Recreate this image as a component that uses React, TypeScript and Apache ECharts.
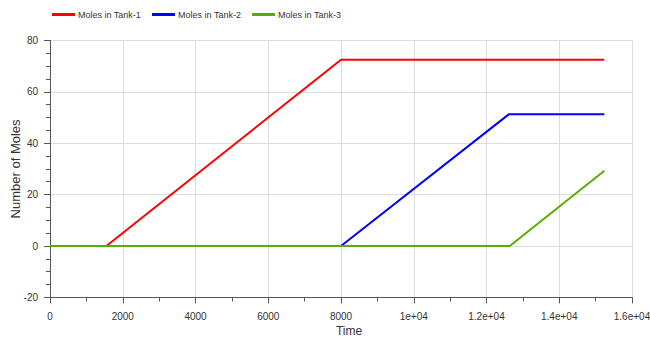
import React, { useEffect, useRef } from "react";
import * as echarts from "echarts";

const seriesNames = ["Moles in Tank-1", "Moles in Tank-2", "Moles in Tank-3"];
const seriesColors = ["#ff0000", "#0000ff", "#5aad00"];

const tank1Time = [0, 1550, 8000, 15240];
const tank1Moles = [0, 0, 72.5, 72.5];

const tank2Time = [0, 8000, 12620, 15240];
const tank2Moles = [0, 0, 51.3, 51.3];

const tank3Time = [0, 12640, 15240];
const tank3Moles = [0, 0, 29.3];

const xTickLabels: Record<number, string> = {
  0: "0",
  2000: "2000",
  4000: "4000",
  6000: "6000",
  8000: "8000",
  10000: "1e+04",
  12000: "1.2e+04",
  14000: "1.4e+04",
  16000: "1.6e+04",
};

const zip = (xs: number[], ys: number[]) => xs.map((x, i) => [x, ys[i]]);

export default function App() {
  const ref = useRef<HTMLDivElement>(null);
  useEffect(() => {
    if (!ref.current) return;
    const chart = echarts.init(ref.current, undefined, { renderer: "svg" });
    const font = "'Liberation Sans', Arial, sans-serif";
    const axisColor = "#555";
    const labelColor = "#333";
    chart.setOption({
      animation: false,
      textStyle: { fontFamily: font },
      legend: {
        left: 47,
        top: 5,
        itemWidth: 23,
        itemHeight: 3,
        itemGap: 11,
        icon: "rect",
        textStyle: {
          fontFamily: font,
          fontSize: 9,
          color: labelColor,
          padding: [0, 0, 0, -2],
        },
        data: seriesNames,
      },
      grid: { left: 50, right: 18, top: 40.4, bottom: 40.6, containLabel: false, outerBoundsMode: "none" },
      xAxis: {
        type: "value",
        min: 0,
        max: 16000,
        interval: 2000,
        name: "Time",
        nameLocation: "middle",
        nameGap: 28,
        nameMoveOverlap: false,
        nameTextStyle: { fontSize: 12, color: labelColor, padding: [0, 0, 0, 16] },
        axisLine: { show: true, onZero: false, lineStyle: { color: axisColor, width: 1 } },
        axisTick: { show: true, length: 6, lineStyle: { color: axisColor } },
        minorTick: { show: true, splitNumber: 2, length: 4, lineStyle: { color: axisColor } },
        axisLabel: {
          fontSize: 10,
          color: labelColor,
          margin: 14,
          formatter: (v: number) => xTickLabels[v] ?? String(v),
        },
        splitLine: { show: true, lineStyle: { color: "#dcdcdc", width: 1 } },
      },
      yAxis: {
        type: "value",
        min: -20,
        max: 80,
        interval: 20,
        name: "Number of Moles",
        nameLocation: "middle",
        nameRotate: 90,
        nameGap: 28,
        nameMoveOverlap: false,
        nameTextStyle: { fontSize: 13, color: labelColor },
        axisLine: { show: true, onZero: false, lineStyle: { color: axisColor, width: 1 } },
        axisTick: { show: true, length: 6, lineStyle: { color: axisColor } },
        minorTick: { show: true, splitNumber: 4, length: 4, lineStyle: { color: axisColor } },
        axisLabel: { fontSize: 10, color: labelColor, margin: 12 },
        splitLine: { show: true, lineStyle: { color: "#dcdcdc", width: 1 } },
      },
      series: [
        { data: zip(tank1Time, tank1Moles) },
        { data: zip(tank2Time, tank2Moles) },
        { data: zip(tank3Time, tank3Moles) },
      ].map((s, i) => ({
        name: seriesNames[i],
        type: "line",
        data: s.data,
        showSymbol: false,
        symbol: "none",
        color: seriesColors[i],
        lineStyle: { color: seriesColors[i], width: 2 },
      })),
    });
    return () => chart.dispose();
  }, []);
  return (
    <div
      ref={ref}
      style={{ position: "absolute", left: 0, top: 0, width: 650, height: 338 }}
    />
  );
}
